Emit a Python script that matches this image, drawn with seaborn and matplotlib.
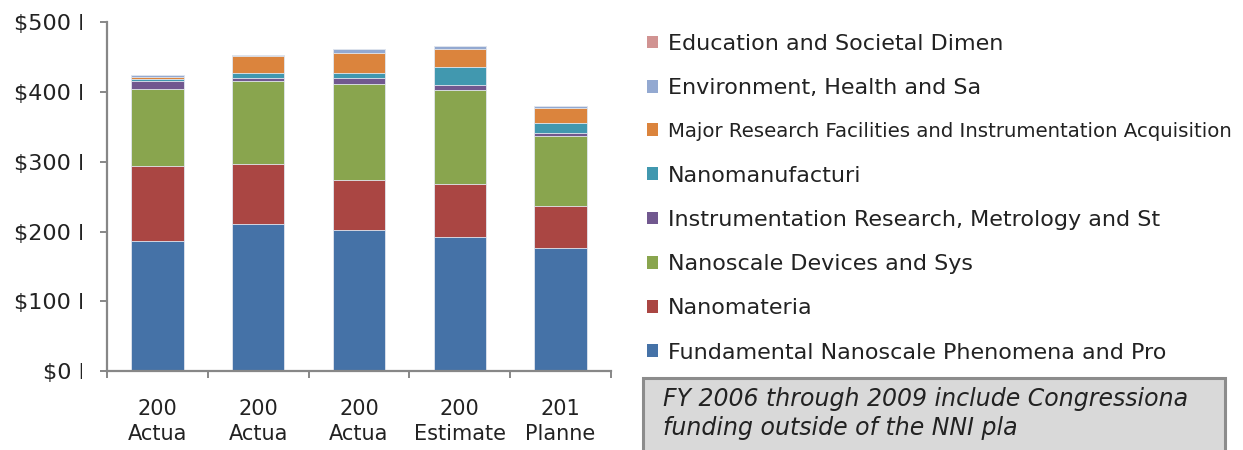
import numpy as np
import pandas as pd
import matplotlib
matplotlib.use("Agg")
import matplotlib.pyplot as plt
import seaborn as sns
from matplotlib.patches import Patch, Rectangle

# fiscal years (categories) and what is visible of their axis labels
years = ["2006 Actual", "2007 Actual", "2008 Actual", "2009 Estimate", "2010 Planned"]
tick_labels = ["200\nActua", "200\nActua", "200\nActua", "200\nEstimate", "201\nPlanne"]
y_labels = ["$0 M", "$100 M", "$200 M", "$300 M", "$400 M", "$500 M"]

# program component areas, bottom of the stack first (legend text as shown)
names = ["Fundamental Nanoscale Phenomena and Pro",
         "Nanomateria",
         "Nanoscale Devices and Sys",
         "Instrumentation Research, Metrology and St",
         "Nanomanufacturi",
         "Major Research Facilities and Instrumentation Acquisition",
         "Environment, Health and Sa",
         "Education and Societal Dimen"]

# $ millions
fundamental = [186, 211, 202, 192, 176]
nanomaterials = [108.5, 86.5, 72, 77, 61]
devices = [110, 119, 138, 134, 100.5]
instrumentation = [12, 4.5, 9, 7, 4.5]
manufacturing = [2, 7, 7, 26, 14.5]
facilities = [3, 24, 28.5, 26, 20.5]
ehs = [2.5, 0.8, 5, 4.7, 3]
education = [0.6, 0.3, 0.3, 0.3, 0.3]

colors = ["#4572A7", "#AA4643", "#89A54E", "#71588F",
          "#4198AF", "#DB843D", "#93A9D1", "#D19392"]

note = "FY 2006 through 2009 include Congressiona\nfunding outside of the NNI pla"

data = pd.DataFrame(dict(zip(names, [fundamental, nanomaterials, devices, instrumentation,
                                     manufacturing, facilities, ehs, education])), index=years)
cum = data.cumsum(axis=1)

sns.set_style("ticks")
plt.rcParams['font.family'] = ['DejaVu Sans']
plt.rcParams['text.color'] = '#222222'

W, H = 1243, 450
fig = plt.figure(figsize=(W / 100, H / 100), dpi=100)
ax = fig.add_axes([107 / W, 1 - 371 / H, (611 - 107) / W, (371 - 22.5) / H])

# stacked bars: draw running totals from the top series down
for name, c in reversed(list(zip(names, colors))):
    sns.barplot(x=years, y=cum[name].values, color=c, saturation=1, width=0.52,
                edgecolor="#e4e9f1", linewidth=0.6, ax=ax)

ax.set_ylim(0, 500)
ax.set_xlim(-0.5, len(years) - 0.5)
ax.set_xlabel("")
ax.set_ylabel("")

grey = "#878787"
for s in ["top", "right"]:
    ax.spines[s].set_visible(False)
for s in ["left", "bottom"]:
    ax.spines[s].set_color(grey)
    ax.spines[s].set_linewidth(1.6)

ax.set_yticks(np.arange(0, 501, 100))
ax.set_yticklabels(y_labels)
ax.tick_params(axis="y", length=5, width=1.4, color=grey, labelsize=16, pad=2, labelcolor="#222222")

ax.set_xticks(np.arange(-0.5, len(years), 1))
ax.set_xticklabels([""] * (len(years) + 1))
ax.tick_params(axis="x", which="major", length=5, width=1.4, color=grey)
ax.set_xticks(np.arange(len(years)), minor=True)
ax.set_xticklabels(tick_labels, minor=True, linespacing=1.3)
ax.tick_params(axis="x", which="minor", length=0, pad=20, labelsize=15, labelcolor="#222222")

# y labels are cut off on the right in the original
clip = Rectangle((0, 0), 82 / W, 1, transform=fig.transFigure)
for lbl in ax.get_yticklabels():
    lbl.set_clip_on(True)
    lbl.set_clip_path(clip)

handles = [Patch(facecolor=c, edgecolor="none") for c in colors]
leg = ax.legend(handles[::-1], names[::-1], loc="upper left",
                bbox_to_anchor=(647 / W, 1 - 34 / H), bbox_transform=fig.transFigure,
                frameon=False, fontsize=16, handlelength=0.5, handleheight=0.5,
                handletextpad=0.45, labelspacing=1.09, borderpad=0, borderaxespad=0)
# the long label runs to the right edge; shrink it a bit so it stays inside
for t in leg.get_texts():
    if t.get_text().startswith("Major"):
        t.set_fontsize(14.2)

box = Rectangle((643 / W, -0.1), (1225 - 643) / W, 0.1 + 1 - 378 / H, transform=fig.transFigure,
                facecolor="#D9D9D9", edgecolor="#8C8C8C", linewidth=2.2)
fig.add_artist(box)
fig.text(663 / W, 1 - 387 / H, note, style="italic", fontsize=17, va="top", ha="left",
         linespacing=1.25, color="#222222")

fig.savefig("out.png", dpi=100)
